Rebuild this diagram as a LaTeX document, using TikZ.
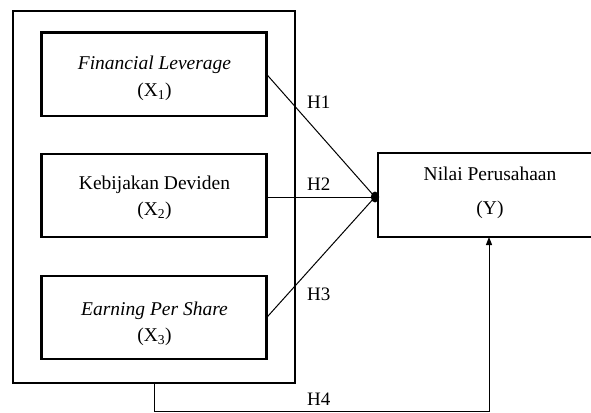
\documentclass[tikz,border=0pt]{standalone}
\usepackage{fontspec}
\setmainfont{Liberation Serif}
\usetikzlibrary{arrows.meta}
\tikzset{
  boxn/.style={draw, line width=2.5pt, inner sep=0pt, outer sep=0pt},
  lbl/.style={anchor=base, inner sep=0pt, font=\fontsize{19.5}{24}\selectfont},
  hlbl/.style={anchor=base west, inner sep=0pt, font=\fontsize{19}{24}\selectfont},
  conn/.style={line width=1pt}
}
\begin{document}
\begin{tikzpicture}[x=1pt,y=-1pt]
\useasboundingbox (0,0) rectangle (591,412);
% outer frame
\node[boxn, minimum width=282pt, minimum height=372pt] (o) at (154,197) {};
% inner boxes
\node[boxn, minimum width=225pt, minimum height=83.3pt] (b1) at (154.2,74.4) {};
\node[boxn, minimum width=225pt, minimum height=83pt] (b2) at (154.2,195.5) {};
\node[boxn, minimum width=225pt, minimum height=83pt] (b3) at (154.2,317.5) {};
% dependent variable box (cut at right edge)
\coordinate (j) at (375,197);
\fill (j) ellipse (4.2pt and 5.5pt);
\node[boxn, minimum width=222pt, minimum height=84pt] (n) at (489,195) {};
% texts
\node[lbl] (t1a) at (154.5,69) {\textit{Financial Leverage}};
\node[lbl] (t1b) at (154.5,96) {(X\textsubscript{1})};
\node[lbl] (t2a) at (154.5,189) {Kebijakan Deviden};
\node[lbl] (t2b) at (154.5,215) {(X\textsubscript{2})};
\node[lbl] (t3a) at (154.5,315) {\textit{Earning Per Share}};
\node[lbl] (t3b) at (154.5,341) {(X\textsubscript{3})};
\node[lbl] (tna) at (490,180) {Nilai Perusahaan};
\node[lbl] (tnb) at (490,214) {(Y)};
% connectors
\draw[conn] (b1.east) -- (j);
\draw[conn] (b2.east |- j) -- (j);
\draw[conn] (b3.east) -- (j);
\draw[conn, -{Triangle[width=6pt,length=8pt]}] (o.south) -- ++(0,28.5) -| (n.south);
% hypothesis labels
\node[hlbl] (h1) at (307,108) {H1};
\node[hlbl] (h2) at (307,190) {H2};
\node[hlbl] (h3) at (307,300) {H3};
\node[hlbl] (h4) at (307,405) {H4};
\end{tikzpicture}
\end{document}
